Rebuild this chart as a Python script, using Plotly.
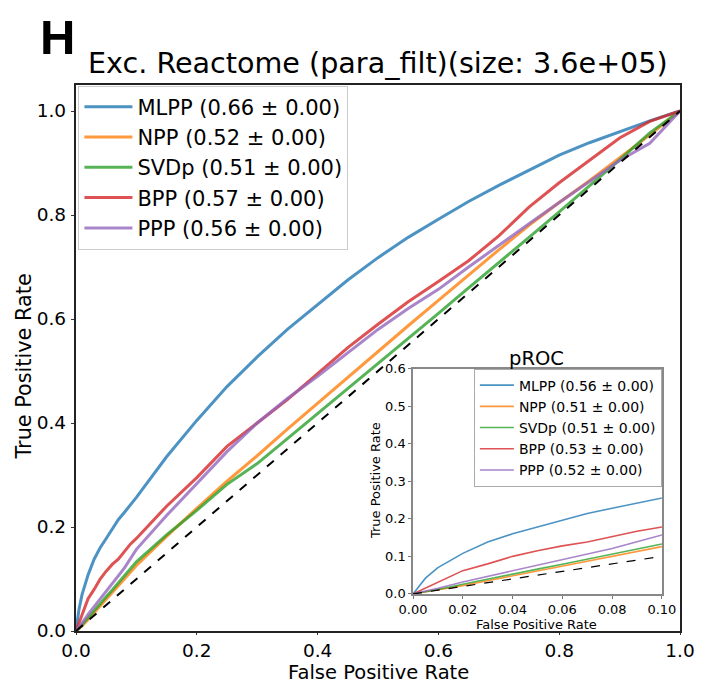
import plotly.graph_objects as go

# ---------------- data ----------------
fpr = [0, 0.005, 0.01, 0.02, 0.03, 0.04, 0.05, 0.06, 0.07, 0.08, 0.09, 0.10,
       0.15, 0.20, 0.25, 0.30, 0.35, 0.40, 0.45, 0.50, 0.55, 0.60, 0.65, 0.70,
       0.75, 0.80, 0.85, 0.90, 0.95, 1.00]

tpr_mlpp = [0, 0.042, 0.07, 0.108, 0.138, 0.16, 0.178, 0.197, 0.214, 0.228, 0.243, 0.257,
            0.335, 0.405, 0.47, 0.527, 0.58, 0.628, 0.675, 0.718, 0.757, 0.792, 0.826, 0.857,
            0.886, 0.915, 0.939, 0.96, 0.981, 1.0]
tpr_npp = [0, 0.005, 0.01, 0.022, 0.035, 0.048, 0.061, 0.074, 0.088, 0.1, 0.113, 0.126,
           0.182, 0.236, 0.288, 0.337, 0.388, 0.438, 0.488, 0.537, 0.587, 0.636, 0.685, 0.733,
           0.78, 0.824, 0.866, 0.91, 0.954, 1.0]
tpr_svdp = [0, 0.005, 0.012, 0.026, 0.04, 0.053, 0.066, 0.079, 0.093, 0.106, 0.12, 0.133,
            0.185, 0.232, 0.282, 0.322, 0.37, 0.418, 0.466, 0.515, 0.563, 0.611, 0.66, 0.708,
            0.757, 0.806, 0.856, 0.906, 0.958, 1.0]
tpr_bpp = [0, 0.015, 0.03, 0.062, 0.08, 0.1, 0.115, 0.128, 0.138, 0.152, 0.167, 0.178,
           0.24, 0.295, 0.355, 0.40, 0.445, 0.495, 0.545, 0.59, 0.633, 0.672, 0.712, 0.76,
           0.815, 0.862, 0.905, 0.948, 0.98, 1.0]
tpr_ppp = [0, 0.007, 0.015, 0.032, 0.047, 0.062, 0.076, 0.092, 0.106, 0.121, 0.139, 0.157,
           0.222, 0.283, 0.345, 0.40, 0.447, 0.49, 0.535, 0.58, 0.62, 0.657, 0.70, 0.742,
           0.783, 0.824, 0.865, 0.905, 0.938, 1.0]

methods = ["MLPP", "NPP", "SVDp", "BPP", "PPP"]
roc_auc = ["0.66", "0.52", "0.51", "0.57", "0.56"]
proc_auc = ["0.56", "0.51", "0.51", "0.53", "0.52"]
auc_std = ["0.00", "0.00", "0.00", "0.00", "0.00"]
colors = ["rgba(31,119,180,0.8)", "rgba(255,127,14,0.8)", "rgba(44,160,44,0.8)",
          "rgba(214,39,40,0.8)", "rgba(148,103,189,0.8)"]
tprs = [tpr_mlpp, tpr_npp, tpr_svdp, tpr_bpp, tpr_ppp]

chance_x = [0, 1]
chance_y = [0, 1]

main_ticks = [0.0, 0.2, 0.4, 0.6, 0.8, 1.0]
inset_xticks = [0.0, 0.02, 0.04, 0.06, 0.08, 0.10]
inset_yticks = [0.0, 0.1, 0.2, 0.3, 0.4, 0.5, 0.6]

FONT = "DejaVu Sans"

# ---------------- figure ----------------
fig = go.Figure()

for m, t, a, s, c in zip(methods, tprs, roc_auc, auc_std, colors):
    fig.add_trace(go.Scatter(
        x=fpr, y=t, mode="lines", name=f"{m} ({a} ± {s})",
        line=dict(color=c, width=3), legend="legend", legendgroup="main_" + m,
        xaxis="x", yaxis="y", hoverinfo="skip"))

fig.add_trace(go.Scatter(x=chance_x, y=chance_y, mode="lines",
                         line=dict(color="black", width=2, dash="dash"),
                         showlegend=False, xaxis="x", yaxis="y", hoverinfo="skip"))

# inset white background (clipped to inset axes)
fig.add_trace(go.Scatter(x=[-1, 2, 2, -1, -1], y=[-1, -1, 2, 2, -1], mode="lines",
                         fill="toself", fillcolor="white", line=dict(width=0, color="white"),
                         showlegend=False, xaxis="x2", yaxis="y2", hoverinfo="skip"))

for m, t, a, s, c in zip(methods, tprs, proc_auc, auc_std, colors):
    fig.add_trace(go.Scatter(
        x=fpr, y=t, mode="lines", name=f"{m} ({a} ± {s})",
        line=dict(color=c, width=1.6), legend="legend2", legendgroup="inset_" + m,
        xaxis="x2", yaxis="y2", hoverinfo="skip"))

fig.add_trace(go.Scatter(x=chance_x, y=chance_y, mode="lines",
                         line=dict(color="black", width=1.2, dash="dash"),
                         showlegend=False, xaxis="x2", yaxis="y2", hoverinfo="skip"))

axis_common = dict(showgrid=False, zeroline=False, showline=True, mirror=True)

fig.update_layout(
    width=698, height=678,
    margin=dict(l=68, r=26, t=77, b=55),
    paper_bgcolor="white", plot_bgcolor="white",
    font=dict(family=FONT, color="black"),
    xaxis=dict(**axis_common, domain=[0, 1], range=[0, 1], tickvals=main_ticks,
               tickformat=".1f", ticks="outside", ticklen=2, tickcolor="#333",
               linecolor="#222", linewidth=1.5, tickfont=dict(size=18.5, family=FONT),
               anchor="y"),
    yaxis=dict(**axis_common, domain=[0, 1], range=[0, 1.05], tickvals=main_ticks,
               tickformat=".1f", ticks="outside", ticklen=3.5, tickcolor="#333",
               linecolor="#222", linewidth=1.5, tickfont=dict(size=18.5, family=FONT),
               anchor="x", ticklabelstandoff=1),
    xaxis2=dict(**axis_common, domain=[0.558, 0.970], range=[0, 0.1], tickvals=inset_xticks,
                tickformat=".2f", ticks="outside", ticklen=3, tickcolor="#777",
                linecolor="#888", linewidth=1.5, tickfont=dict(size=13, family=FONT),
                anchor="y2"),
    yaxis2=dict(**axis_common, domain=[0.0679, 0.4807], range=[0, 0.6], tickvals=inset_yticks,
                tickformat=".1f", ticks="outside", ticklen=3, tickcolor="#777",
                linecolor="#888", linewidth=1.5, tickfont=dict(size=13, family=FONT),
                anchor="x2"),
    legend=dict(x=0.004, y=0.999, xanchor="left", yanchor="top",
                bgcolor="rgba(255,255,255,0.85)", bordercolor="#cccccc", borderwidth=1,
                font=dict(size=21, family=FONT), tracegroupgap=0, itemwidth=48),
    legend2=dict(x=0.970, y=0.4807, xanchor="right", yanchor="top",
                 bgcolor="rgba(255,255,255,0.85)", bordercolor="#aaaaaa", borderwidth=1,
                 font=dict(size=14, family=FONT), tracegroupgap=0, itemwidth=34),
    annotations=[
        dict(text="<b>H</b>", x=-0.031, y=1.088, xref="paper", yref="paper",
             xanchor="center", yanchor="middle", showarrow=False, borderpad=0,
             font=dict(size=49, family="Liberation Sans", color="black")),
        dict(text="Exc. Reactome (para_filt)(size: 3.6e+05)", x=0.5, y=1.0404,
             xref="paper", yref="paper", xanchor="center", yanchor="middle",
             showarrow=False, font=dict(size=28.6, family=FONT)),
        dict(text="False Positive Rate", x=0.5, y=-0.0985, xref="paper", yref="paper",
             xanchor="center", yanchor="bottom", showarrow=False, borderpad=0,
             font=dict(size=19.5, family=FONT)),
        dict(text="True Positive Rate", x=-0.0855, y=0.485, xref="paper", yref="paper",
             xanchor="center", yanchor="middle", textangle=-90, showarrow=False,
             font=dict(size=20.8, family=FONT)),
        dict(text="pROC", x=0.763, y=0.5, xref="paper", yref="paper",
             xanchor="center", yanchor="middle", showarrow=False,
             font=dict(size=19.5, family=FONT)),
        dict(text="False Positive Rate", x=0.763, y=0.0125, xref="paper", yref="paper",
             xanchor="center", yanchor="middle", showarrow=False,
             font=dict(size=13, family=FONT)),
        dict(text="True Positive Rate", x=0.497, y=0.275, xref="paper", yref="paper",
             xanchor="center", yanchor="middle", textangle=-90, showarrow=False,
             font=dict(size=13, family=FONT)),
    ],
)

fig.write_html("out.html")
